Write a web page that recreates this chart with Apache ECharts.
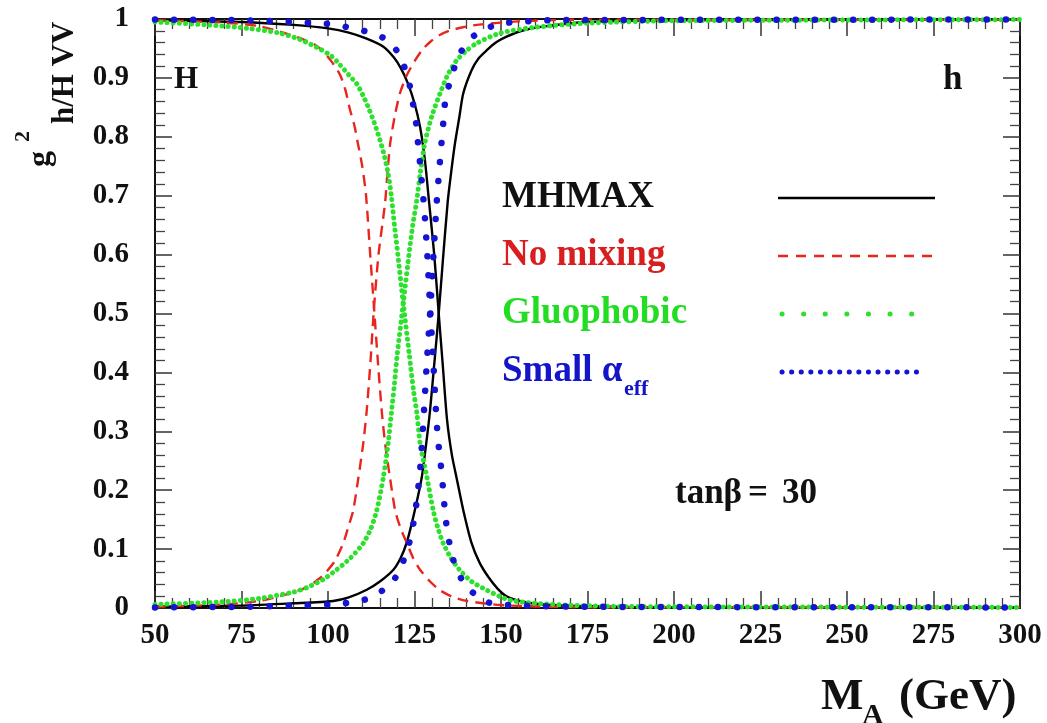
<!DOCTYPE html>
<html>
<head>
<meta charset="utf-8">
<script src="https://cdn.jsdelivr.net/npm/echarts@6/dist/echarts.min.js"></script>
<style>
  html, body { margin: 0; padding: 0; background: #ffffff; }
  #chart { width: 1047px; height: 723px; }
</style>
</head>
<body>
<div id="chart"></div>
<script>
// Squared couplings g^2 of h and H to vector bosons versus M_A (GeV), tan(beta) = 30.
// Each pair is [M_A, g^2]. "H" curves fall from 1, "h" curves rise to 1.

const mhmaxH = [[50,0.998],[75,0.995],[90,0.99],[100,0.984],[106,0.977],[111,0.967],[116,0.953],[119,0.935],[121,0.917],[123,0.892],[125,0.857],[126.6,0.817],[128,0.761],[129.2,0.69],[130.7,0.6],[132,0.5],[133.2,0.41],[134.4,0.32],[135.8,0.26],[137.2,0.22],[139.1,0.166],[141.5,0.11],[143.8,0.077],[146.3,0.053],[149,0.033],[151.6,0.02],[156,0.011],[162,0.006],[175,0.003],[200,0.001],[300,0.001]];
const mhmaxh = [[50,0.002],[75,0.004],[90,0.008],[101.5,0.012],[106,0.018],[111.2,0.031],[115,0.045],[118.9,0.065],[121,0.085],[122.7,0.11],[125.1,0.166],[127.1,0.222],[128.4,0.28],[129.5,0.336],[130.8,0.42],[132,0.5],[133.2,0.59],[134.6,0.69],[135.6,0.74],[136.7,0.789],[138,0.835],[139.1,0.874],[141.5,0.913],[143.5,0.933],[145.9,0.947],[148.5,0.96],[151.6,0.97],[156,0.98],[162,0.987],[175,0.995],[200,0.998],[300,0.999]];

const nomixH = [[50,0.998],[70,0.994],[80,0.988],[88,0.975],[93,0.965],[96,0.957],[98.6,0.945],[101,0.928],[103.5,0.905],[105,0.88],[106.4,0.845],[107.6,0.82],[108.6,0.79],[109.9,0.75],[111,0.7],[112.2,0.6],[113.3,0.51],[114.4,0.42],[115.6,0.33],[116.7,0.27],[117.9,0.222],[119.4,0.166],[121,0.135],[122.8,0.11],[124.6,0.085],[126.6,0.065],[129.5,0.045],[132.4,0.03],[136,0.019],[140,0.012],[150,0.005],[165,0.002],[200,0.001],[300,0.001]];
const nomixh = [[50,0.002],[70,0.006],[80,0.012],[88,0.023],[93.8,0.035],[97.7,0.051],[99.6,0.062],[102,0.08],[104.4,0.11],[106,0.14],[107.3,0.166],[108.8,0.222],[110.2,0.28],[111.2,0.336],[112.3,0.42],[113.3,0.51],[114.6,0.6],[116.5,0.688],[117.2,0.74],[118,0.79],[119.3,0.835],[120.8,0.874],[122.8,0.905],[125.2,0.93],[127.3,0.948],[129.5,0.961],[132,0.972],[135,0.98],[139,0.986],[143,0.99],[155,0.996],[175,0.999],[300,0.999]];

const gluoH = [[50,0.995],[65,0.99],[77,0.984],[86,0.976],[92,0.965],[98,0.948],[101,0.937],[103.5,0.922],[106,0.905],[108.3,0.89],[110.3,0.868],[112,0.845],[113.6,0.82],[115,0.795],[116.2,0.77],[117.3,0.74],[118.3,0.7],[119.2,0.65],[120,0.61],[121.7,0.52],[123.5,0.43],[124.7,0.37],[125.7,0.33],[126.6,0.28],[127.6,0.25],[128.6,0.222],[130.4,0.166],[131.8,0.135],[133.3,0.11],[135.5,0.085],[138,0.065],[141.5,0.045],[146,0.03],[149.5,0.02],[153.5,0.012],[165,0.006],[180,0.003],[200,0.002],[300,0.001]];
const gluoh = [[50,0.006],[68,0.01],[80,0.016],[90,0.027],[94,0.035],[98.5,0.048],[102.5,0.065],[106.5,0.085],[110.2,0.11],[112.4,0.135],[114.1,0.166],[116,0.222],[117.4,0.28],[118.3,0.33],[119.2,0.38],[120,0.43],[121.8,0.52],[123.6,0.61],[124.5,0.65],[125.6,0.69],[126.7,0.74],[128,0.79],[130,0.835],[132.4,0.874],[134.6,0.905],[137.2,0.93],[140,0.946],[143,0.959],[149.7,0.976],[160,0.986],[175,0.993],[200,0.997],[300,0.999]];

const smallAlphaH = [[50,0.999],[75,0.998],[90,0.995],[95.8,0.993],[101.5,0.991],[107.8,0.983],[113.6,0.975],[116.5,0.966],[118.9,0.954],[120.5,0.94],[121.8,0.923],[122.8,0.905],[123.7,0.885],[124.7,0.851],[125.6,0.817],[126.1,0.783],[126.7,0.75],[127.3,0.71],[127.8,0.68],[128.7,0.6],[129.6,0.5],[130.5,0.41],[131.4,0.316],[131.9,0.28],[132.6,0.243],[133.2,0.206],[133.7,0.17],[134.3,0.138],[135.3,0.104],[136.2,0.082],[137.2,0.065],[139,0.045],[141,0.031],[143.5,0.018],[145.9,0.01],[150,0.006],[155,0.004],[175,0.002],[300,0.001]];
const smallAlphah = [[50,0.001],[75,0.002],[90,0.004],[100.6,0.006],[107.3,0.01],[111,0.015],[113.6,0.022],[116.3,0.032],[118.4,0.042],[120,0.057],[121.3,0.073],[122.3,0.088],[123.2,0.104],[124,0.124],[124.7,0.144],[125.5,0.175],[126.1,0.205],[126.7,0.24],[127.1,0.27],[127.6,0.32],[128.6,0.42],[129.5,0.5],[130.5,0.6],[131.4,0.687],[132.1,0.74],[132.8,0.789],[133.3,0.823],[133.8,0.857],[134.5,0.878],[135.3,0.894],[136.2,0.912],[137.2,0.928],[138.5,0.945],[140.1,0.959],[142.3,0.972],[144.9,0.981],[147.5,0.988],[150.7,0.993],[165,0.998],[300,0.999]];

const xTickValues = [50, 75, 100, 125, 150, 175, 200, 225, 250, 275, 300];
const yTickLabels = ['0', '0.1', '0.2', '0.3', '0.4', '0.5', '0.6', '0.7', '0.8', '0.9', '1'];

const scenarios = [
  { name: 'MHMAX',      curves: [mhmaxH, mhmaxh],           color: '#000000', width: 2.4, dash: 'solid', cap: 'butt' },
  { name: 'No mixing',  curves: [nomixH, nomixh],           color: '#e8261e', width: 2.4, dash: [11, 7], cap: 'butt' },
  { name: 'Gluophobic', curves: [gluoH, gluoh],             color: '#2ee02e', width: 5, dash: [0.1, 6], cap: 'round' },
  { name: 'Small alpha_eff', curves: [smallAlphaH, smallAlphah], color: '#1414d2', width: 6.5, dash: [0.1, 19], cap: 'round' }
];

const FONT = '"Liberation Serif", "Times New Roman", serif';

const series = [];
scenarios.forEach(function (s) {
  s.curves.forEach(function (pts, i) {
    series.push({
      name: s.name + (i === 0 ? ' H' : ' h'),
      type: 'line',
      data: pts,
      showSymbol: false,
      smooth: 0.25,
      clip: true,
      silent: true,
      lineStyle: { color: s.color, width: s.width, type: s.dash, cap: s.cap, join: 'round' }
    });
  });
});

const tickLabelStyle = { fontFamily: FONT, fontWeight: 'bold', fontSize: 29, color: '#111111' };

function makeXAxis(pos, showLabels) {
  return {
    type: 'value', position: pos, min: 50, max: 300, interval: 25,
    axisLine: { show: true, onZero: false, lineStyle: { color: '#111', width: 2 } },
    axisTick: { show: true, inside: true, length: 17, lineStyle: { color: '#333', width: 1.5 } },
    minorTick: { show: true, splitNumber: 5, length: 10, lineStyle: { color: '#444', width: 1.3 } },
    splitLine: { show: false },
    axisLabel: Object.assign({ show: showLabels, margin: 13,
      formatter: function (v) { return xTickValues.indexOf(v) >= 0 ? String(v) : ''; } }, tickLabelStyle)
  };
}
function makeYAxis(pos, showLabels) {
  return {
    type: 'value', position: pos, min: 0, max: 1, interval: 0.1,
    axisLine: { show: true, onZero: false, lineStyle: { color: '#111', width: 2 } },
    axisTick: { show: true, inside: true, length: 17, lineStyle: { color: '#333', width: 1.5 } },
    minorTick: { show: true, splitNumber: 5, length: 10, lineStyle: { color: '#444', width: 1.3 } },
    splitLine: { show: false },
    axisLabel: Object.assign({ show: showLabels, margin: 26,
      formatter: function (v) { return yTickLabels[Math.round(v * 10)]; } }, tickLabelStyle)
  };
}

// Legend rows: label on the left, line sample on the right
const legendRows = [
  { text: 'MHMAX',      color: '#111111', y: 200 },
  { text: 'No mixing',  color: '#d81e1e', y: 258 },
  { text: 'Gluophobic', color: '#22dd22', y: 316 },
  { text: 'Small \u03b1', color: '#1414c8', y: 374 }
];
const legendSampleX = [[778, 935], [778, 935], [782, 918], [782, 926]];
const legendDash = [null, [10, 8], [0.1, 21.5], [0.1, 9.5]];

const graphics = [];
legendRows.forEach(function (row, i) {
  const s = scenarios[i];
  graphics.push({
    type: 'text', left: 502, top: row.y - 21, silent: true,
    style: { text: row.text, fill: row.color, font: 'bold 37px ' + FONT }
  });
  graphics.push({
    type: 'line', silent: true,
    shape: { x1: legendSampleX[i][0], y1: row.y - 2, x2: legendSampleX[i][1], y2: row.y - 2 },
    style: { stroke: s.color, lineWidth: i >= 2 ? 5 : 2.6,
             lineDash: legendDash[i], lineCap: i >= 2 ? 'round' : 'butt' }
  });
});
// subscript of alpha_eff
graphics.push({ type: 'text', left: 624, top: 378, silent: true,
  style: { text: 'eff', fill: '#1414c8', font: 'bold 22px ' + FONT } });

// region markers and parameter note
graphics.push({ type: 'text', left: 174, top: 64, silent: true,
  style: { text: 'H', fill: '#111', font: 'bold 31px ' + FONT } });
graphics.push({ type: 'text', left: 943, top: 62, silent: true,
  style: { text: 'h', fill: '#111', font: 'bold 35px ' + FONT } });
graphics.push({ type: 'text', left: 675, top: 476, silent: true,
  style: { text: 'tan\u03b2', fill: '#111', font: 'bold 35px ' + FONT } });
graphics.push({ type: 'text', left: 748, top: 476, silent: true,
  style: { text: '=', fill: '#111', font: 'bold 35px ' + FONT } });
graphics.push({ type: 'text', left: 782, top: 476, silent: true,
  style: { text: '30', fill: '#111', font: 'bold 35px ' + FONT } });

// x-axis title: M_A (GeV)
graphics.push({ type: 'text', left: 821, top: 675, silent: true,
  style: { text: 'M', fill: '#111', font: 'bold 45px ' + FONT } });
graphics.push({ type: 'text', left: 862, top: 701, silent: true,
  style: { text: 'A', fill: '#111', font: 'bold 30px ' + FONT } });
graphics.push({ type: 'text', left: 899, top: 675, silent: true,
  style: { text: '(GeV)', fill: '#111', font: 'bold 45px ' + FONT } });

// y-axis title: g^2 with subscript h/H VV, rotated to read upward
graphics.push({ type: 'text', x: 25, y: 167, rotation: Math.PI / 2, silent: true,
  style: { text: 'g', fill: '#111', font: 'bold 32px ' + FONT, textVerticalAlign: 'top' } });
graphics.push({ type: 'text', x: 12, y: 142, rotation: Math.PI / 2, silent: true,
  style: { text: '2', fill: '#111', font: 'bold 22px ' + FONT, textVerticalAlign: 'top' } });
graphics.push({ type: 'text', x: 49, y: 124, rotation: Math.PI / 2, silent: true,
  style: { text: 'h/H VV', fill: '#111', font: 'bold 31px ' + FONT, textVerticalAlign: 'top' } });

const chart = echarts.init(document.getElementById('chart'), null, { renderer: 'canvas' });
chart.setOption({
  animation: false,
  backgroundColor: '#ffffff',
  grid: { left: 155, right: 27, top: 19, bottom: 115, containLabel: false },
  xAxis: [makeXAxis('bottom', true), makeXAxis('top', false)],
  yAxis: [makeYAxis('left', true), makeYAxis('right', false)],
  series: series,
  graphic: graphics
});
</script>
</body>
</html>
